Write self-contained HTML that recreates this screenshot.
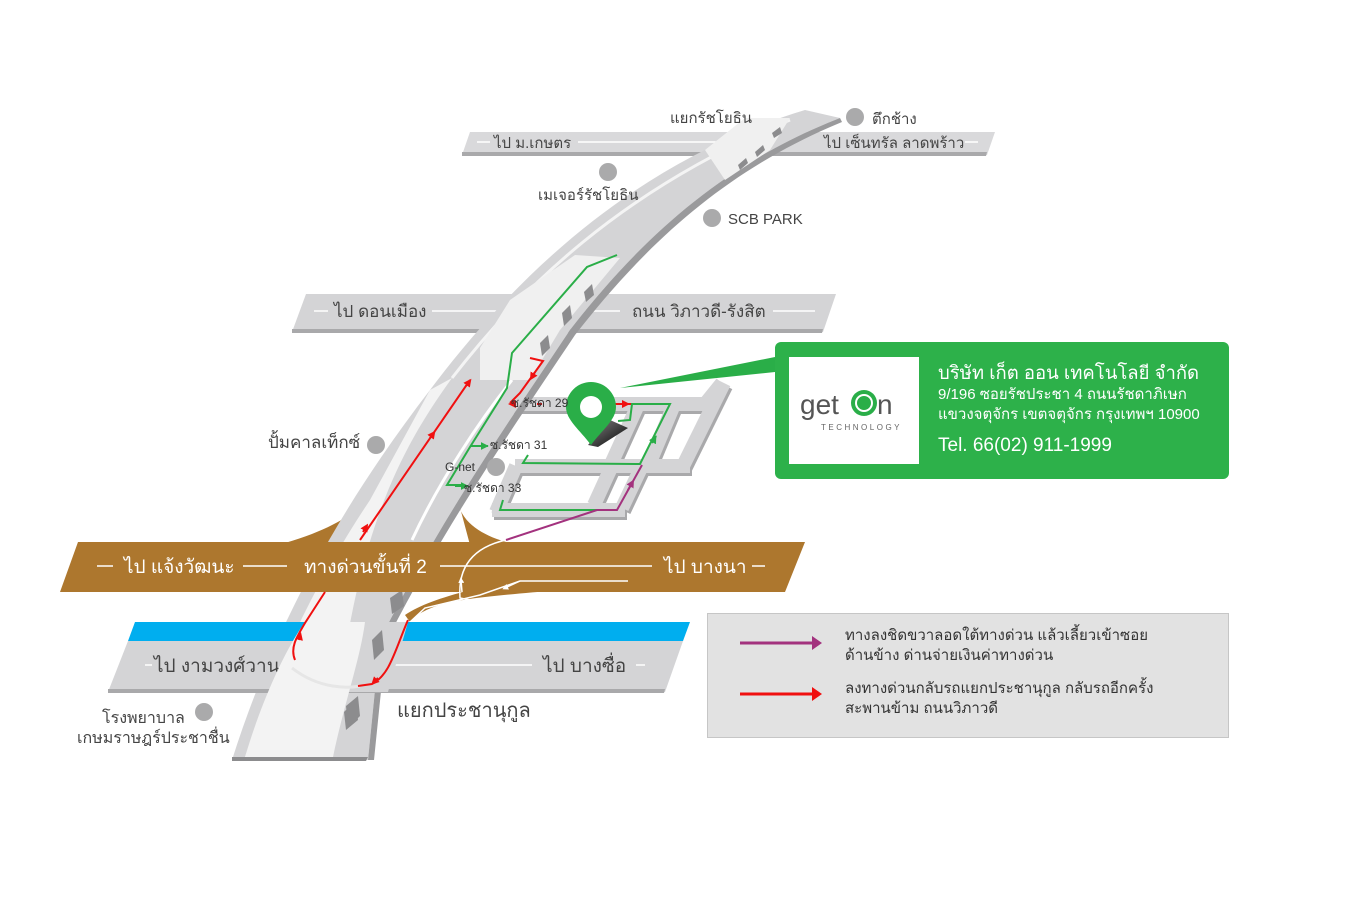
<!DOCTYPE html>
<html><head><meta charset="utf-8"><style>
html,body{margin:0;padding:0;background:#fff;width:1370px;height:900px;overflow:hidden}
svg text{font-family:"Liberation Sans","DejaVu Sans",sans-serif}
</style></head><body>
<svg width="1370" height="900" viewBox="0 0 1370 900" xmlns="http://www.w3.org/2000/svg">
<defs>
<marker id="ar" viewBox="0 0 10 10" refX="5" refY="5" markerWidth="4" markerHeight="4" orient="auto"><path d="M0,0L10,5L0,10z" fill="#f01010"/></marker>
<marker id="ag" viewBox="0 0 10 10" refX="9" refY="5" markerWidth="4" markerHeight="4" orient="auto"><path d="M0,0L10,5L0,10z" fill="#2aae48"/></marker>
<marker id="ap" viewBox="0 0 10 10" refX="5" refY="5" markerWidth="4" markerHeight="4" orient="auto"><path d="M0,0L10,5L0,10z" fill="#a3327e"/></marker>
<marker id="aw" viewBox="0 0 10 10" refX="5" refY="5" markerWidth="4" markerHeight="4" orient="auto"><path d="M0,0L10,5L0,10z" fill="#fff"/></marker>
<linearGradient id="sh" x1="0" y1="0" x2="1" y2="1"><stop offset="0" stop-color="#888"/><stop offset="1" stop-color="#000"/></linearGradient>
</defs>

<!-- top cross road -->
<polygon points="470,132 995,132 987,155 462,155" fill="#d9d9db"/>
<polygon points="462,152 987,152 986,156 462,156" fill="#a9a9ab"/>
<line x1="477" y1="142" x2="490" y2="142" stroke="#fff" stroke-width="1.5"/>
<line x1="578" y1="142" x2="740" y2="142" stroke="#fff" stroke-width="1.5"/>
<line x1="965" y1="142" x2="978" y2="142" stroke="#fff" stroke-width="1.5"/>
<text x="494" y="148" font-size="15" fill="#444">ไป ม.เกษตร</text>
<text x="824" y="148" font-size="15" fill="#444">ไป เซ็นทรัล ลาดพร้าว</text>

<!-- middle cross road -->
<polygon points="306,294 836,294 823,332 292,332" fill="#d4d4d6"/>
<polygon points="292,329 823,329 822,333 292,333" fill="#a9a9ab"/>
<line x1="314" y1="311" x2="328" y2="311" stroke="#fff" stroke-width="1.5"/>
<line x1="432" y1="311" x2="620" y2="311" stroke="#fff" stroke-width="1.5"/>
<line x1="773" y1="311" x2="815" y2="311" stroke="#fff" stroke-width="1.5"/>
<text x="334" y="317" font-size="17" fill="#444">ไป ดอนเมือง</text>
<text x="632" y="317" font-size="17" fill="#444">ถนน วิภาวดี-รังสิต</text>

<!-- soi block -->
<g fill="none" stroke="#a9a9ab" stroke-width="14" stroke-linejoin="miter" transform="translate(2,3)">
<polyline points="505,404 705,404 722,383"/>
<line x1="724" y1="383" x2="683" y2="466"/>
<line x1="515" y1="466" x2="690" y2="466"/>
<line x1="492" y1="510" x2="625" y2="510"/>
<line x1="637" y1="407" x2="612" y2="462"/><line x1="673" y1="407" x2="650" y2="462"/>
<line x1="610" y1="470" x2="594" y2="505"/><line x1="640" y1="470" x2="622" y2="508"/>
<line x1="516" y1="466" x2="496" y2="512"/>
</g>
<g fill="none" stroke="#d4d4d6" stroke-width="14" stroke-linejoin="miter">
<polyline points="505,404 705,404 722,383"/>
<line x1="724" y1="383" x2="683" y2="466"/>
<line x1="515" y1="466" x2="690" y2="466"/>
<line x1="492" y1="510" x2="625" y2="510"/>
<line x1="637" y1="407" x2="612" y2="462"/><line x1="673" y1="407" x2="650" y2="462"/>
<line x1="610" y1="470" x2="594" y2="505"/><line x1="640" y1="470" x2="622" y2="508"/>
<line x1="516" y1="466" x2="496" y2="512"/>
</g>

<!-- brown ramps -->
<path d="M285,543 C330,530 350,515 365,505 L365,530 L330,545z" fill="#ad772e"/>
<path d="M458,500 C460,525 490,540 520,545 L470,545z" fill="#ad772e"/>
<path d="M410,622 C430,600 470,598 560,590 L470,590 C440,598 420,605 405,615z" fill="#ad772e"/>

<!-- main elevated road -->
<path d="M232,760 C270,640 330,520 430,390 C520,270 640,160 805,110 L840,118 C720,165 640,240 570,330 C510,420 440,520 380,640 L368,760z" fill="#d4d4d6"/>
<path d="M368,760 L380,640 C440,520 510,420 570,330 C640,240 720,165 840,118 L842,122 C725,170 645,245 575,335 C515,425 446,523 386,642 L374,760z" fill="#9a9a9c"/>
<path d="M245,757 C285,640 330,560 370,500 L430,390 L452,378 C400,450 350,540 333,757z" fill="#f3f3f3"/>
<path d="M452,378 C520,290 620,190 790,120" fill="none" stroke="#f4f4f4" stroke-width="3"/>
<path d="M412,540 C440,480 480,420 512,380" fill="none" stroke="#fff" stroke-width="3"/>
<!-- bridge blocks -->
<polygon points="480,348 510,300 575,255 620,258 560,330 530,380 480,380" fill="#f0f0f0"/>
<polygon points="705,150 745,118 790,118 770,150 725,180" fill="#f0f0f0"/>
<g fill="#8c8c8e">
<polygon points="584,292 592,284 594,295 586,302"/><polygon points="562,313 570,305 572,318 564,326"/><polygon points="540,343 548,335 550,348 542,356"/>
<polygon points="738,165 746,158 748,163 740,170"/><polygon points="755,152 763,145 765,150 757,157"/><polygon points="772,133 780,127 782,133 774,138"/>
<polygon points="390,598 402,590 404,606 392,614"/><polygon points="368,648 380,636 382,654 370,664"/><polygon points="344,712 356,700 358,720 346,730"/>
</g>

<!-- red on elevated road (under expressway) -->
<path d="M360,540 L470,380" fill="none" stroke="#f01010" stroke-width="2"/>
<path d="M363,532 L366,527" stroke="#f01010" stroke-width="2" marker-end="url(#ar)"/>
<path d="M430,438 L433,434" stroke="#f01010" stroke-width="2" marker-end="url(#ar)"/>
<path d="M466,386 L469,382" stroke="#f01010" stroke-width="2" marker-end="url(#ar)"/>

<!-- expressway -->
<polygon points="78,542 805,542 785,592 60,592" fill="#ad772e"/>
<g stroke="#fff" stroke-width="1.5">
<line x1="97" y1="566" x2="113" y2="566"/><line x1="243" y1="566" x2="287" y2="566"/>
<line x1="440" y1="566" x2="652" y2="566"/><line x1="752" y1="566" x2="765" y2="566"/>
</g>
<text x="124" y="573" font-size="19" fill="#fff">ไป แจ้งวัฒนะ</text>
<text x="304" y="573" font-size="19" fill="#fff">ทางด่วนขั้นที่ 2</text>
<text x="664" y="573" font-size="19" fill="#fff">ไป บางนา</text>
<path d="M628,581 L520,581 L480,595 L425,608 L410,622" fill="none" stroke="#fff" stroke-width="1.5"/>
<path d="M506,540 C470,548 458,570 460,598 L470,600" fill="none" stroke="#fff" stroke-width="1.5"/>
<path d="M520,581 L505,588" stroke="#fff" stroke-width="1.5" marker-end="url(#aw)"/>
<path d="M462,592 L461,580" stroke="#fff" stroke-width="1.5" marker-end="url(#aw)"/>

<!-- canal + bottom road -->
<polygon points="135,622 690,622 683,641 128,641" fill="#00aeef"/>
<polygon points="128,641 683,641 665,692 108,692" fill="#d4d4d6"/>
<polygon points="108,689 665,689 664,693 108,693" fill="#a9a9ab"/>
<g stroke="#fff" stroke-width="1.5"><line x1="145" y1="665" x2="152" y2="665"/><line x1="388" y1="665" x2="532" y2="665"/><line x1="636" y1="665" x2="645" y2="665"/></g>
<text x="154" y="672" font-size="19" fill="#444">ไป งามวงศ์วาน</text>
<text x="543" y="672" font-size="19" fill="#444">ไป บางซื่อ</text>
<!-- elevated road over bottom -->
<path d="M290,692 C295,660 298,635 305,622 L408,622 L388,692z" fill="#d4d4d6"/>
<path d="M245,757 C262,700 285,650 305,622 L365,622 C360,660 345,700 333,757z" fill="#f3f3f3"/>
<path d="M292,668 C320,690 350,688 360,686" fill="none" stroke="#e6e6e6" stroke-width="3"/>
<polygon points="232,757 368,757 366,761 232,761" fill="#8c8c8e"/>
<g fill="#8c8c8e"><polygon points="372,640 382,630 384,650 374,660"/><polygon points="346,706 358,696 360,716 348,728"/></g>

<!-- routes -->
<path d="M295,660 C290,648 296,638 305,623 L325,592" fill="none" stroke="#f01010" stroke-width="2"/>
<path d="M299,640 L300,636" stroke="#f01010" stroke-width="2" marker-end="url(#ar)"/>
<path d="M408,620 C395,650 390,675 372,684 L358,686" fill="none" stroke="#f01010" stroke-width="2"/>
<path d="M378,678 L374,682" stroke="#f01010" stroke-width="2" marker-end="url(#ar)"/>
<path d="M530,358 L543,361 L520,393 L510,403" fill="none" stroke="#f01010" stroke-width="2"/>
<path d="M535,372 L532,377" stroke="#f01010" stroke-width="2" marker-end="url(#ar)"/>
<path d="M516,404 L512,404" stroke="#f01010" stroke-width="2" marker-end="url(#ar)"/>
<path d="M537,404 L542,404 M612,404 L632,404" fill="none" stroke="#f01010" stroke-width="2"/>
<path d="M620,404 L626,404" stroke="#f01010" stroke-width="2" marker-end="url(#ar)"/>

<path d="M617,255 L587,267 L512,353 L507,388 L470,447 L447,485 L462,485" fill="none" stroke="#2aae48" stroke-width="2"/>
<path d="M470,446 L488,446" stroke="#2aae48" stroke-width="2" marker-end="url(#ag)"/>
<path d="M455,486 L468,486" stroke="#2aae48" stroke-width="2" marker-end="url(#ag)"/>
<path d="M528,455 L523,463 L640,464 L670,404 L632,404 L630,420 L618,421" fill="none" stroke="#2aae48" stroke-width="2"/>
<path d="M652,443 L656,436" stroke="#2aae48" stroke-width="2" marker-end="url(#ag)"/>
<path d="M503,500 L500,510 L597,510" fill="none" stroke="#2aae48" stroke-width="2"/>
<path d="M506,540 L597,510 L617,510 L642,465" fill="none" stroke="#a3327e" stroke-width="2"/>
<path d="M628,490 L632,483" stroke="#a3327e" stroke-width="2" marker-end="url(#ap)"/>

<!-- pin and callout -->
<polygon points="620,388 775,357 775,372" fill="#2aae48"/>
<path d="M588,445 L610,420 L628,428 L598,447z" fill="url(#sh)"/>
<path d="M591,445 C580,430 566,420 566,407 A25,25 0 1 1 616,407 C616,420 602,430 591,445z" fill="#2aae48"/>
<circle cx="591" cy="407" r="11" fill="#fff"/>

<!-- labels on map -->
<text x="511" y="407" font-size="12" fill="#333">ซ.รัชดา 29</text>
<text x="490" y="449" font-size="12" fill="#333">ซ.รัชดา 31</text>
<text x="464" y="492" font-size="12" fill="#333">ซ.รัชดา 33</text>
<text x="445" y="471" font-size="12" fill="#333">G-net</text>
<g fill="#aaaaab">
<circle cx="855" cy="117" r="9"/><circle cx="608" cy="172" r="9"/><circle cx="712" cy="218" r="9"/>
<circle cx="376" cy="445" r="9"/><circle cx="496" cy="467" r="9"/><circle cx="204" cy="712" r="9"/>
</g>
<text x="670" y="123" font-size="15" fill="#444">แยกรัชโยธิน</text>
<text x="872" y="124" font-size="15" fill="#444">ตึกช้าง</text>
<text x="538" y="200" font-size="15" fill="#444">เมเจอร์รัชโยธิน</text>
<text x="728" y="224" font-size="15" fill="#444">SCB PARK</text>
<text x="268" y="448" font-size="17" fill="#444">ปั้มคาลเท็กซ์</text>
<text x="397" y="717" font-size="20" fill="#444">แยกประชานุกูล</text>
<text x="102" y="723" font-size="16" fill="#444">โรงพยาบาล</text>
<text x="77" y="743" font-size="16" fill="#444">เกษมราษฎร์ประชาชื่น</text>

<!-- info box -->
<rect x="775" y="342" width="454" height="137" rx="6" fill="#2db14a"/>
<rect x="789" y="357" width="130" height="107" fill="#fff"/>
<text x="800" y="414" font-size="28" fill="#555">get</text>
<circle cx="864" cy="403" r="13" fill="#2aae48"/>
<circle cx="864" cy="403" r="8" fill="none" stroke="#fff" stroke-width="2"/>
<text x="877" y="414" font-size="28" fill="#555">n</text>
<text x="821" y="430" font-size="8" fill="#666" letter-spacing="2.5">TECHNOLOGY</text>
<text x="938" y="379" font-size="18.5" fill="#fff">บริษัท เก็ต ออน เทคโนโลยี จำกัด</text>
<text x="938" y="399" font-size="15" fill="#fff">9/196 ซอยรัชประชา 4 ถนนรัชดาภิเษก</text>
<text x="938" y="419" font-size="15" fill="#fff">แขวงจตุจักร เขตจตุจักร กรุงเทพฯ 10900</text>
<text x="938" y="451" font-size="19" fill="#fff">Tel. 66(02) 911-1999</text>

<!-- legend -->
<rect x="707.5" y="613.5" width="521" height="124" fill="#e2e2e2" stroke="#c6c6c6"/>
<line x1="740" y1="643" x2="815" y2="643" stroke="#a3327e" stroke-width="3"/>
<polygon points="812,636 822,643 812,650" fill="#a3327e"/>
<line x1="740" y1="694" x2="815" y2="694" stroke="#f01010" stroke-width="3"/>
<polygon points="812,687 822,694 812,701" fill="#f01010"/>
<text x="845" y="640" font-size="15" fill="#333">ทางลงชิดขวาลอดใต้ทางด่วน แล้วเลี้ยวเข้าซอย</text>
<text x="845" y="660" font-size="15" fill="#333">ด้านข้าง ด่านจ่ายเงินค่าทางด่วน</text>
<text x="845" y="693" font-size="15" fill="#333">ลงทางด่วนกลับรถแยกประชานุกูล กลับรถอีกครั้ง</text>
<text x="845" y="713" font-size="15" fill="#333">สะพานข้าม ถนนวิภาวดี</text>
</svg>
</body></html>
